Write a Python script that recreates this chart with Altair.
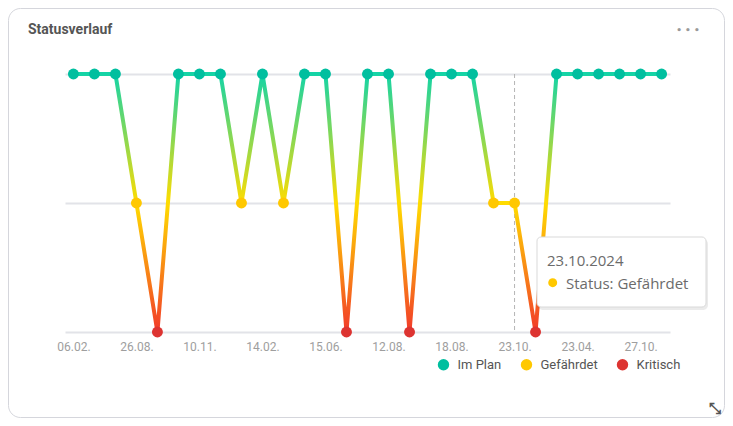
import altair as alt
import pandas as pd

# ---- data ----
status_names = ["Kritisch", "Gefährdet", "Im Plan"]  # 0,1,2
status_seq = [2, 2, 2, 1, 0, 2, 2, 2, 1, 2, 1, 2, 2, 0, 2, 2, 0, 2, 2, 2, 1, 1, 0, 2, 2, 2, 2, 2, 2]
tick_labels = ["06.02.", "26.08.", "10.11.", "14.02.", "15.06.", "12.08.", "18.08.", "23.10.", "23.04.", "27.10."]
tick_step = 3
hover_index = 21
tooltip_date = "23.10.2024"
tooltip_status = "Status: Gefährdet"
legend_order = ["Im Plan", "Gefährdet", "Kritisch"]
point_colors = ["#00bf9f", "#ffc800", "#dd3431"]

df = pd.DataFrame({
    "idx": list(range(len(status_seq))),
    "val": status_seq,
    "status": [status_names[v] for v in status_seq],
})

W, H = 605, 258
FONT = "Roboto"
TIPFONT = "Open Sans"

x_scale = alt.Scale(domain=[-0.4, len(status_seq) - 1 + 0.4], nice=False, zero=False)
y_scale = alt.Scale(domain=[0, 2], nice=False, zero=False)

label_arr = "[" + ",".join("'" + t + "'" for t in tick_labels) + "]"
x_axis = alt.Axis(values=list(range(0, len(tick_labels) * tick_step, tick_step)),
                  labelExpr=f"{label_arr}[datum.value/{tick_step}]",
                  grid=False, domain=False, ticks=False, title=None,
                  labelColor="#9e9e9e", labelFontSize=12, labelFont=FONT, labelPadding=9)
y_axis = alt.Axis(values=[0, 1, 2], grid=True, gridColor="#e2e3e8", gridWidth=2,
                  labels=False, ticks=False, domain=False, title=None)

base = alt.Chart(df)

card = alt.Chart(pd.DataFrame({"a": [0]})).mark_rect(
    fill="white", fillOpacity=0, stroke="#d5d6dc", strokeWidth=1, cornerRadius=12
).encode(x=alt.value(-56.5), x2=alt.value(659.5), y=alt.value(-65.5), y2=alt.value(343.5))

crosshair = alt.Chart(pd.DataFrame({"i": [hover_index]})).mark_rule(
    color="#b5b5b5", strokeDash=[4, 3], strokeWidth=1
).encode(x=alt.X("i:Q", scale=x_scale, axis=x_axis), y=alt.value(0), y2=alt.value(H))

grad = alt.Gradient(
    gradient="linear",
    stops=[alt.GradientStop(color="#14d4a6", offset=0),
           alt.GradientStop(color="#ffdc00", offset=0.5),
           alt.GradientStop(color="#f23a2a", offset=1)],
    x1=0, x2=0, y1=0, y2=1,
)

line = base.mark_line(stroke=grad, strokeWidth=4).encode(
    x=alt.X("idx:Q", scale=x_scale, axis=x_axis),
    y=alt.Y("val:Q", scale=y_scale, axis=y_axis),
)

points = base.mark_circle(size=120, opacity=1).encode(
    x=alt.X("idx:Q", scale=x_scale, axis=x_axis),
    y=alt.Y("val:Q", scale=y_scale, axis=y_axis),
    color=alt.Color("status:N",
                    scale=alt.Scale(domain=legend_order, range=point_colors),
                    legend=alt.Legend(orient="none", legendX=372, legendY=284,
                                      direction="horizontal", title=None,
                                      symbolType="circle", symbolSize=130,
                                      symbolStrokeWidth=0, labelFont=FONT,
                                      labelFontSize=13, labelColor="#555555",
                                      labelOffset=7.5, columnPadding=18)),
)

one = pd.DataFrame({"a": [0]})
tip_shadow = alt.Chart(one).mark_rect(fill="#000000", fillOpacity=0.08, cornerRadius=5).encode(
    x=alt.value(473), x2=alt.value(643), y=alt.value(165), y2=alt.value(236))
tip_box = alt.Chart(one).mark_rect(fill="white", stroke="#d9d9d9", strokeWidth=1, cornerRadius=4).encode(
    x=alt.value(472), x2=alt.value(641), y=alt.value(163), y2=alt.value(233))
tip_date = alt.Chart(one).mark_text(text=tooltip_date, align="left", baseline="alphabetic",
                                     font=TIPFONT, fontSize=15, color="#6b6b6b").encode(
    x=alt.value(482), y=alt.value(192))
tip_dot = alt.Chart(one).mark_circle(size=80, color="#ffc800", opacity=1).encode(
    x=alt.value(487.7), y=alt.value(208.7))
tip_text = alt.Chart(one).mark_text(text=tooltip_status, align="left", baseline="alphabetic",
                                     font=TIPFONT, fontSize=15, color="#6b6b6b").encode(
    x=alt.value(501), y=alt.value(215))

title = alt.Chart(one).mark_text(text="Statusverlauf", align="left", baseline="alphabetic",
                                  font=FONT, fontSize=14, fontWeight="bold", color="#555555").encode(
    x=alt.value(-37), y=alt.value(-40))
menu = alt.Chart(one).mark_text(text="• • •", align="center", baseline="middle",
                                 font="DejaVu Sans", fontSize=9, fontWeight="bold", color="#9a9a9a").encode(
    x=alt.value(623), y=alt.value(-44))
expand = alt.Chart(one).mark_text(text="⤡", align="center", baseline="middle",
                                   font="DejaVu Sans", fontSize=15, fontWeight="bold", color="#555555").encode(
    x=alt.value(650), y=alt.value(334))

chart = alt.layer(
    card, crosshair, line, points, tip_shadow, tip_box, tip_date, tip_dot, tip_text, title, menu, expand
).properties(
    width=W, height=H,
    autosize=alt.AutoSizeParams(type="none"),
    padding={"left": 57, "top": 66, "right": 55, "bottom": 86},
    background="white",
).configure_view(stroke=None)

chart.save("out.html", embed_options={"renderer": "svg", "actions": False})
